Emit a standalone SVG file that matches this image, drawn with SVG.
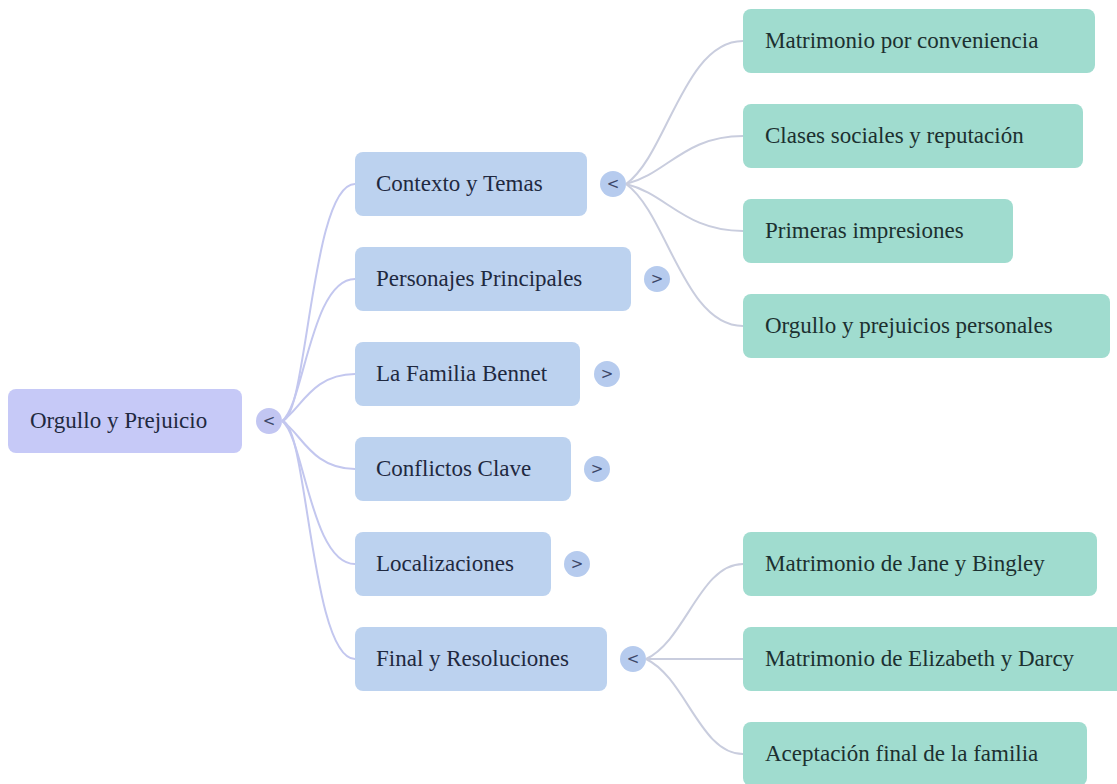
<svg xmlns="http://www.w3.org/2000/svg" width="1117" height="784" viewBox="0 0 1117 784">
<style>
  .t { font-family: "Liberation Serif", "Times New Roman", serif; font-size: 23px; fill: #1f2940; }
  .tl { font-family: "Liberation Serif", "Times New Roman", serif; font-size: 23px; fill: #1c3030; }
  .root { fill: #c6c9f7; }
  .mid { fill: #bcd2ef; }
  .leaf { fill: #a0dccf; }
  .btnr { fill: #c2c6f2; }
  .btn { fill: #b6cbee; }
  .bt { font-family: "DejaVu Sans", sans-serif; font-size: 15px; fill: #3c4668; text-anchor: middle; }
  .c1 { fill: none; stroke: #c3c7ef; stroke-width: 2; }
  .c2 { fill: none; stroke: #c9cdde; stroke-width: 2; }
</style>
<rect width="1117" height="784" fill="#ffffff"/>
<g id="connectors">
  <path class="c1" d="M282 421 C307 421 311 184 355 184"/>
  <path class="c1" d="M282 421 C304 405 311 279 355 279"/>
  <path class="c1" d="M282 421 C300 411 311 374 355 374"/>
  <path class="c1" d="M282 421 C300 431 311 469 355 469"/>
  <path class="c1" d="M282 421 C304 437 311 564 355 564"/>
  <path class="c1" d="M282 421 C307 421 311 659 355 659"/>
  <path class="c2" d="M626 184 C667 155 684 41 743 41"/>
  <path class="c2" d="M626 184 C667 174 684 136 743 136"/>
  <path class="c2" d="M626 184 C667 194 684 231 743 231"/>
  <path class="c2" d="M626 184 C667 213 684 326 743 326"/>
  <path class="c2" d="M646 659 C686 640 700 564 743 564"/>
  <path class="c2" d="M646 659 L743 659"/>
  <path class="c2" d="M646 659 C686 678 700 754 743 754"/>
</g>
<g id="root">
  <rect class="root" x="8" y="389" width="234" height="64" rx="8"/>
  <text class="t" x="30" y="428">Orgullo y Prejuicio</text>
  <circle class="btnr" cx="269" cy="421" r="13"/>
  <text class="bt" x="269" y="426">&lt;</text>
</g>
<g id="contexto">
  <rect class="mid" x="355" y="152" width="232" height="64" rx="8"/>
  <text class="t" x="376" y="191">Contexto y Temas</text>
  <circle class="btn" cx="613" cy="184" r="13"/>
  <text class="bt" x="613" y="189">&lt;</text>
</g>
<g id="personajes">
  <rect class="mid" x="355" y="247" width="276" height="64" rx="8"/>
  <text class="t" x="376" y="286">Personajes Principales</text>
  <circle class="btn" cx="657" cy="279" r="13"/>
  <text class="bt" x="657" y="284">&gt;</text>
</g>
<g id="familia">
  <rect class="mid" x="355" y="342" width="225" height="64" rx="8"/>
  <text class="t" x="376" y="381">La Familia Bennet</text>
  <circle class="btn" cx="607" cy="374" r="13"/>
  <text class="bt" x="607" y="379">&gt;</text>
</g>
<g id="conflictos">
  <rect class="mid" x="355" y="437" width="216" height="64" rx="8"/>
  <text class="t" x="376" y="476">Conflictos Clave</text>
  <circle class="btn" cx="597" cy="469" r="13"/>
  <text class="bt" x="597" y="474">&gt;</text>
</g>
<g id="localizaciones">
  <rect class="mid" x="355" y="532" width="196" height="64" rx="8"/>
  <text class="t" x="376" y="571">Localizaciones</text>
  <circle class="btn" cx="577" cy="564" r="13"/>
  <text class="bt" x="577" y="569">&gt;</text>
</g>
<g id="final">
  <rect class="mid" x="355" y="627" width="252" height="64" rx="8"/>
  <text class="t" x="376" y="666">Final y Resoluciones</text>
  <circle class="btn" cx="633" cy="659" r="13"/>
  <text class="bt" x="633" y="664">&lt;</text>
</g>
<g id="leaf-matrimonio-conveniencia">
  <rect class="leaf" x="743" y="9" width="352" height="64" rx="8"/>
  <text class="tl" x="765" y="48">Matrimonio por conveniencia</text>
</g>
<g id="leaf-clases">
  <rect class="leaf" x="743" y="104" width="340" height="64" rx="8"/>
  <text class="tl" x="765" y="143">Clases sociales y reputación</text>
</g>
<g id="leaf-primeras">
  <rect class="leaf" x="743" y="199" width="270" height="64" rx="8"/>
  <text class="tl" x="765" y="238">Primeras impresiones</text>
</g>
<g id="leaf-orgullo">
  <rect class="leaf" x="743" y="294" width="367" height="64" rx="8"/>
  <text class="tl" x="765" y="333">Orgullo y prejuicios personales</text>
</g>
<g id="leaf-jane">
  <rect class="leaf" x="743" y="532" width="354" height="64" rx="8"/>
  <text class="tl" x="765" y="571">Matrimonio de Jane y Bingley</text>
</g>
<g id="leaf-elizabeth">
  <rect class="leaf" x="743" y="627" width="384" height="64" rx="8"/>
  <text class="tl" x="765" y="666">Matrimonio de Elizabeth y Darcy</text>
</g>
<g id="leaf-aceptacion">
  <rect class="leaf" x="743" y="722" width="344" height="64" rx="8"/>
  <text class="tl" x="765" y="761">Aceptación final de la familia</text>
</g>
</svg>
